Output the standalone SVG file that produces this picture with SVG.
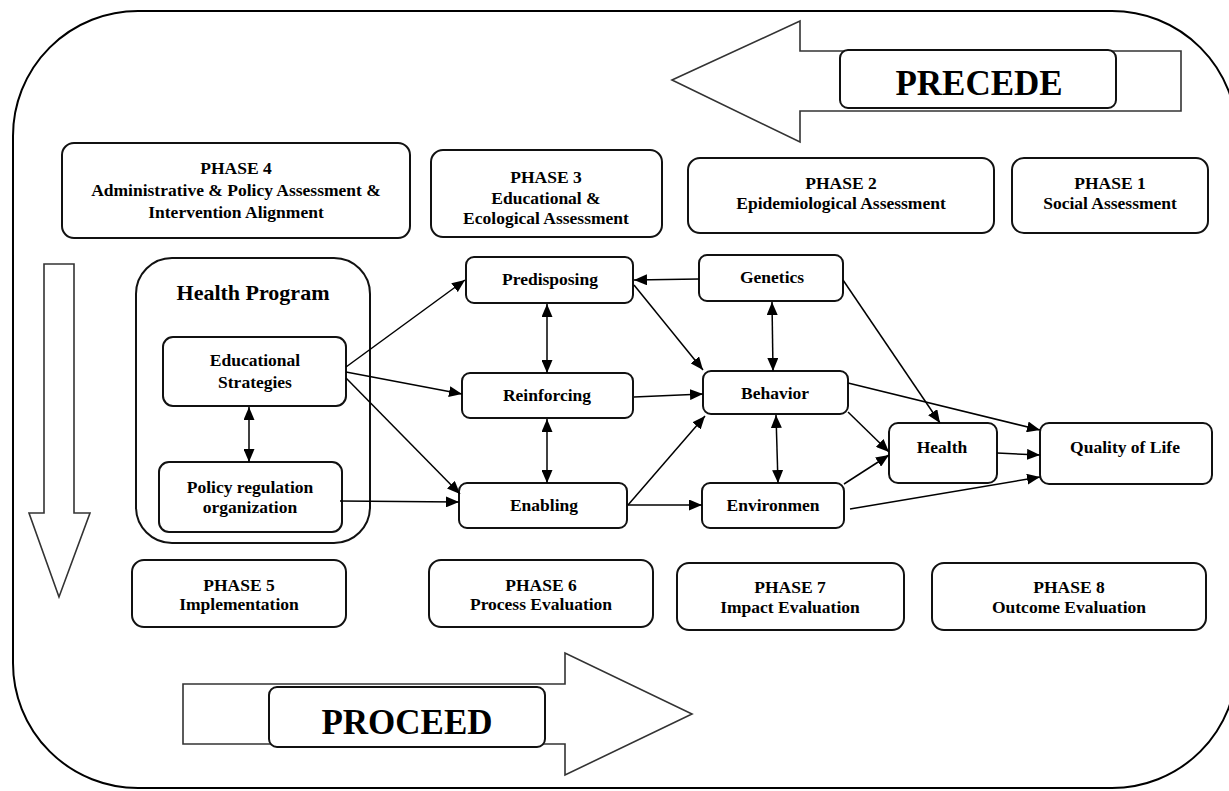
<svg xmlns="http://www.w3.org/2000/svg" width="1229" height="791" viewBox="0 0 1229 791">
<style>
text{font-family:"Liberation Serif","Times New Roman",serif;font-weight:bold;fill:#000;text-anchor:middle}
.t{font-size:17.5px}
.box{fill:#fff;stroke:#111;stroke-width:2}
.big{fill:#fff;stroke:#333;stroke-width:1.6}
.con line{stroke:#000;stroke-width:1.5;fill:none}
.one{marker-end:url(#ah)}
.two{marker-end:url(#ah);marker-start:url(#ah)}
</style>
<defs>
<marker id="ah" markerUnits="userSpaceOnUse" markerWidth="13" markerHeight="11" refX="13" refY="5.5" orient="auto-start-reverse" viewBox="0 0 13 11">
<path d="M0,0 L13,5.5 L0,11 z" fill="#000"/>
</marker>
</defs>
<rect id="frame" x="13" y="11" width="1224" height="777" rx="125" ry="125" fill="#fff" stroke="#000" stroke-width="2"/>

<g id="precede">
<polygon class="big" points="672,80 800,21 800,51 1181,51 1181,111 800,111 800,142"/>
<rect class="box" x="840" y="50" width="276" height="58" rx="8"/>
<text x="979" y="95" style="font-size:35px">PRECEDE</text>
</g>
<g id="proceed">
<polygon class="big" points="183,684 565,684 565,653 692,714 565,775 565,744 183,744"/>
<rect class="box" x="269" y="687" width="276" height="60" rx="8"/>
<text x="407" y="734" style="font-size:35px">PROCEED</text>
</g>
<g id="down-arrow">
<polygon class="big" points="44,264 74,264 74,513 90,513 59,597 29,513 44,513"/>
</g>

<g id="phase4"><rect class="box" x="62" y="143" width="348" height="95" rx="12"/>
<text class="t" x="236" y="174">PHASE 4</text><text class="t" x="236" y="196">Administrative &amp; Policy Assessment &amp;</text><text class="t" x="236" y="218">Intervention Alignment</text></g>
<g id="phase3"><rect class="box" x="431" y="150" width="231" height="87" rx="12"/>
<text class="t" x="546" y="183">PHASE 3</text><text class="t" x="546" y="203.5">Educational &amp;</text><text class="t" x="546" y="224">Ecological Assessment</text></g>
<g id="phase2"><rect class="box" x="688" y="158" width="306" height="75" rx="12"/>
<text class="t" x="841" y="189">PHASE 2</text><text class="t" x="841" y="209">Epidemiological Assessment</text></g>
<g id="phase1"><rect class="box" x="1012" y="158" width="196" height="75" rx="12"/>
<text class="t" x="1110" y="189">PHASE 1</text><text class="t" x="1110" y="209">Social Assessment</text></g>

<g id="phase5"><rect class="box" x="132" y="560" width="214" height="67" rx="12"/>
<text class="t" x="239" y="591">PHASE 5</text><text class="t" x="239" y="610">Implementation</text></g>
<g id="phase6"><rect class="box" x="429" y="560" width="224" height="67" rx="12"/>
<text class="t" x="541" y="591">PHASE 6</text><text class="t" x="541" y="610">Process Evaluation</text></g>
<g id="phase7"><rect class="box" x="677" y="563" width="227" height="67" rx="12"/>
<text class="t" x="790" y="593">PHASE 7</text><text class="t" x="790" y="613">Impact Evaluation</text></g>
<g id="phase8"><rect class="box" x="932" y="563" width="274" height="67" rx="12"/>
<text class="t" x="1069" y="593">PHASE 8</text><text class="t" x="1069" y="613">Outcome Evaluation</text></g>

<g id="health-program"><rect class="box" x="136" y="258" width="234" height="285" rx="36"/>
<text x="253" y="300" style="font-size:22px">Health Program</text></g>
<g id="educational-strategies"><rect class="box" x="163" y="337" width="183" height="69" rx="10"/>
<text class="t" x="255" y="366">Educational</text><text class="t" x="255" y="388">Strategies</text></g>
<g id="policy"><rect class="box" x="159" y="462" width="183" height="70" rx="10"/>
<text class="t" x="250" y="493">Policy regulation</text><text class="t" x="250" y="513">organization</text></g>

<g id="predisposing"><rect class="box" x="466" y="257" width="167" height="46" rx="8"/><text class="t" x="550" y="285">Predisposing</text></g>
<g id="reinforcing"><rect class="box" x="462" y="373" width="171" height="45" rx="8"/><text class="t" x="547" y="401">Reinforcing</text></g>
<g id="enabling"><rect class="box" x="459" y="483" width="168" height="45" rx="8"/><text class="t" x="544" y="511">Enabling</text></g>
<g id="genetics"><rect class="box" x="699" y="255" width="144" height="46" rx="8"/><text class="t" x="772" y="283">Genetics</text></g>
<g id="behavior"><rect class="box" x="703" y="371" width="145" height="43" rx="8"/><text class="t" x="775" y="399">Behavior</text></g>
<g id="environmen"><rect class="box" x="702" y="483" width="142" height="45" rx="8"/><text class="t" x="773" y="511">Environmen</text></g>
<g id="health"><rect class="box" x="889" y="423" width="108" height="60" rx="9"/><text class="t" x="942" y="453">Health</text></g>
<g id="quality"><rect class="box" x="1040" y="423" width="172" height="61" rx="9"/><text class="t" x="1125" y="453">Quality of Life</text></g>

<g id="connectors" class="con">
<line class="one" x1="346" y1="367" x2="465" y2="280"/>
<line class="one" x1="346" y1="372" x2="462" y2="394"/>
<line class="one" x1="346" y1="378" x2="460" y2="494"/>
<line class="one" x1="340" y1="501" x2="459" y2="502"/>
<line class="two" x1="249" y1="407" x2="249" y2="462"/>
<line class="two" x1="547" y1="304" x2="547" y2="373"/>
<line class="two" x1="547" y1="419" x2="547" y2="483"/>
<line class="one" x1="699" y1="279" x2="634" y2="280"/>
<line class="one" x1="634" y1="285" x2="703" y2="370"/>
<line class="one" x1="634" y1="397" x2="703" y2="394"/>
<line class="one" x1="628" y1="505" x2="705" y2="416"/>
<line class="one" x1="628" y1="505" x2="702" y2="505"/>
<line class="two" x1="772" y1="302" x2="773" y2="371"/>
<line class="two" x1="776" y1="415" x2="778" y2="483"/>
<line class="one" x1="843" y1="280" x2="940" y2="423"/>
<line class="one" x1="848" y1="383" x2="1040" y2="430"/>
<line class="one" x1="848" y1="412" x2="889" y2="452"/>
<line class="one" x1="844" y1="484" x2="889" y2="455"/>
<line class="one" x1="997" y1="453" x2="1040" y2="455"/>
<line class="one" x1="850" y1="509" x2="1040" y2="477"/>
</g>
</svg>
